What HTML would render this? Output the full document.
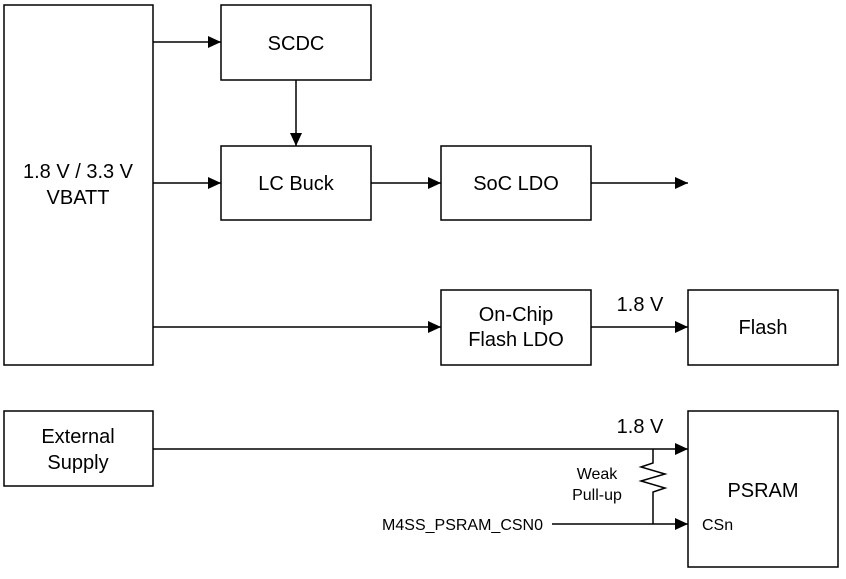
<!DOCTYPE html>
<html><head><style>
body{margin:0;background:#fff;}
svg text{font-family:"Liberation Sans",Arial,sans-serif;fill:#000;}
</style></head><body>
<svg width="846" height="574" viewBox="0 0 846 574" xmlns="http://www.w3.org/2000/svg">
<defs><marker id="a" markerWidth="14" markerHeight="12" refX="13" refY="6" orient="auto" markerUnits="userSpaceOnUse"><path d="M0,0 L13,6 L0,12 Z" fill="#000"/></marker></defs>
<g fill="#fff" stroke="#000" stroke-width="1.5">
<rect x="4" y="5" width="149" height="360"/>
<rect x="221" y="5" width="150" height="75"/>
<rect x="221" y="146" width="150" height="74"/>
<rect x="441" y="146" width="150" height="74"/>
<rect x="441" y="290" width="150" height="75"/>
<rect x="688" y="290" width="150" height="75"/>
<rect x="4" y="411" width="149" height="75"/>
<rect x="688" y="411" width="150" height="156"/>
</g>
<g stroke="#000" stroke-width="1.5" fill="none">
<line x1="153" y1="42" x2="221" y2="42" marker-end="url(#a)"/>
<line x1="296" y1="80" x2="296" y2="146" marker-end="url(#a)"/>
<line x1="153" y1="183" x2="221" y2="183" marker-end="url(#a)"/>
<line x1="371" y1="183" x2="441" y2="183" marker-end="url(#a)"/>
<line x1="591" y1="183" x2="688" y2="183" marker-end="url(#a)"/>
<line x1="153" y1="327" x2="441" y2="327" marker-end="url(#a)"/>
<line x1="591" y1="327" x2="688" y2="327" marker-end="url(#a)"/>
<line x1="153" y1="449" x2="688" y2="449" marker-end="url(#a)"/>
<line x1="552" y1="524" x2="688" y2="524" marker-end="url(#a)"/>
<polyline points="653,449 653,463 641,467 665,474 641,481 665,488 653,492 653,524"/>
</g>
<g font-size="20" text-anchor="middle">
<text x="78" y="178">1.8 V / 3.3 V</text>
<text x="78" y="204">VBATT</text>
<text x="296" y="50">SCDC</text>
<text x="296" y="190">LC Buck</text>
<text x="516" y="190">SoC LDO</text>
<text x="516" y="321">On-Chip</text>
<text x="516" y="346">Flash LDO</text>
<text x="763" y="334">Flash</text>
<text x="640" y="311">1.8 V</text>
<text x="78" y="443">External</text>
<text x="78" y="469">Supply</text>
<text x="640" y="433">1.8 V</text>
<text x="763" y="497">PSRAM</text>
</g>
<g font-size="16">
<text x="597" y="479" text-anchor="middle">Weak</text>
<text x="597" y="500" text-anchor="middle">Pull-up</text>
<text x="543" y="530" text-anchor="end">M4SS_PSRAM_CSN0</text>
<text x="702" y="530">CSn</text>
</g>
</svg>
</body></html>
